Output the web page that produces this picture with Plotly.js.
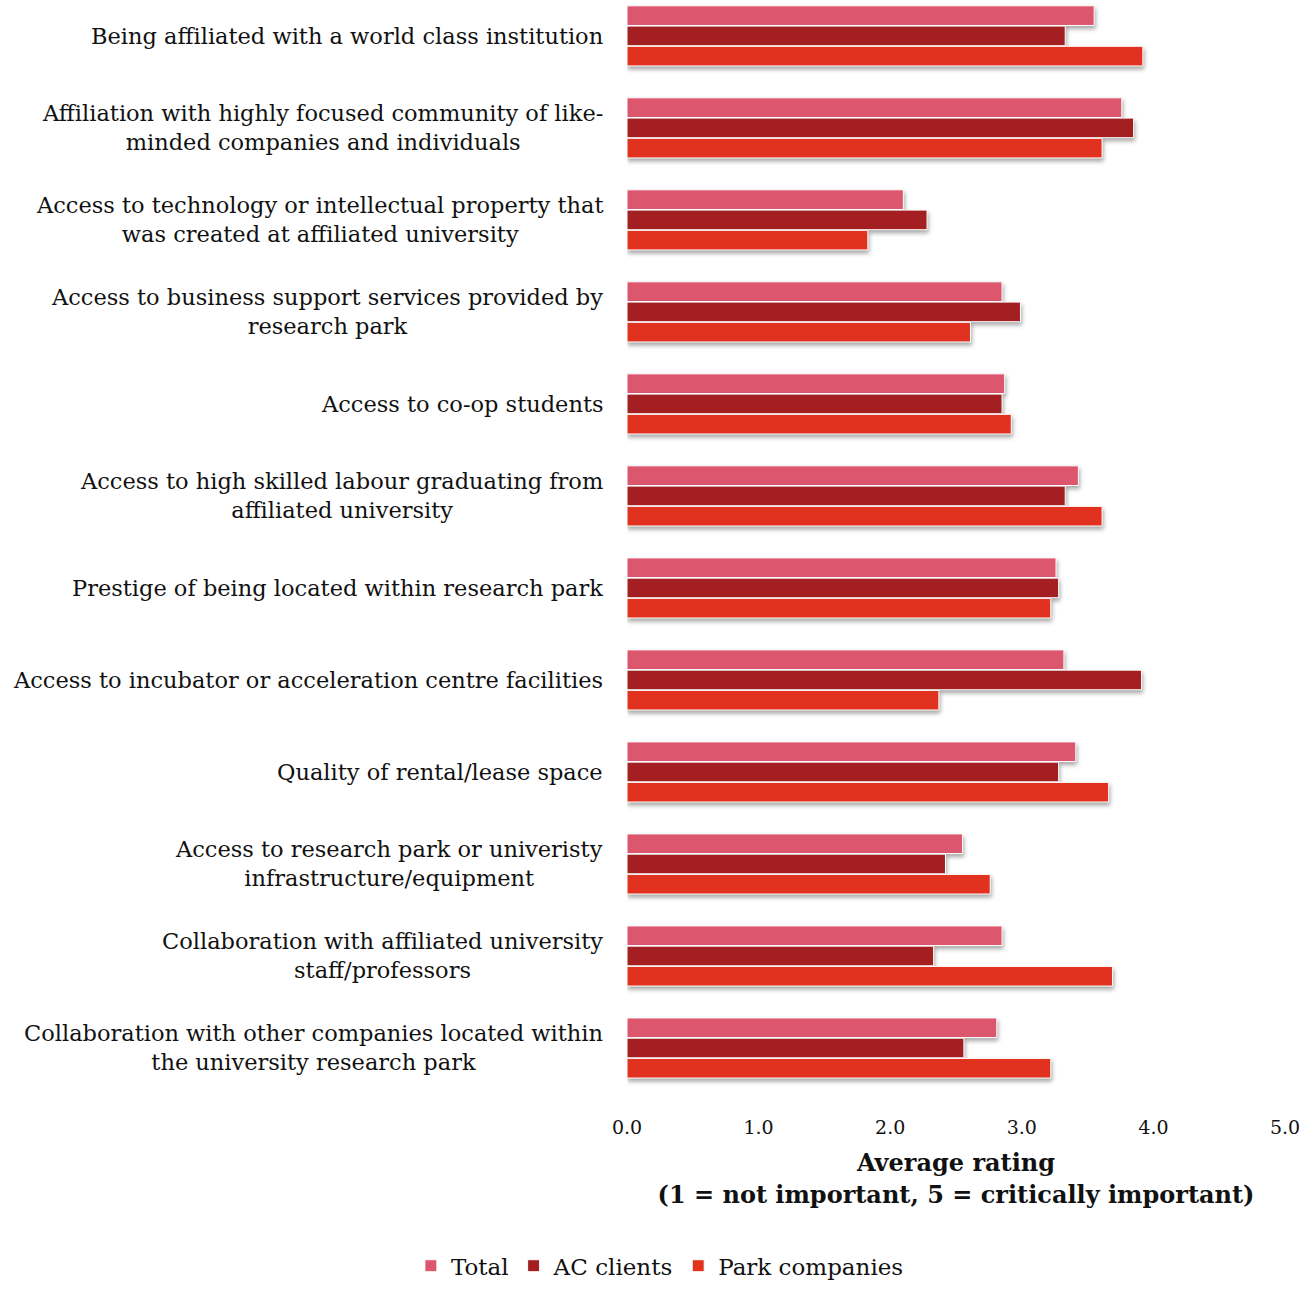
<!DOCTYPE html>
<html>
<head>
<meta charset="utf-8">
<script src="https://cdn.plot.ly/plotly-3.0.1.min.js"></script>
<style>
html,body{margin:0;padding:0;background:#fff;}
#chart{width:1315px;height:1290px;}
.barlayer .point path{filter:drop-shadow(1px 3px 2px rgba(0,0,0,0.35));}
</style>
</head>
<body>
<div id="chart"></div>
<script>
const categories = [
  "Being affiliated with a world class institution",
  "Affiliation with highly focused community of like-<br>minded companies and individuals",
  "Access to technology or intellectual property that<br>was created at affiliated university",
  "Access to business support services provided by<br>research park",
  "Access to co-op students",
  "Access to high skilled labour graduating from<br>affiliated university",
  "Prestige of being located within research park",
  "Access to incubator or acceleration centre facilities",
  "Quality of rental/lease space",
  "Access to research park or univeristy<br>infrastructure/equipment",
  "Collaboration with affiliated university<br>staff/professors",
  "Collaboration with other companies located within<br>the university research park"
];
const totalValues = [3.55, 3.76, 2.10, 2.85, 2.87, 3.43, 3.26, 3.32, 3.41, 2.55, 2.85, 2.81];
const acClientsValues = [3.33, 3.85, 2.28, 2.99, 2.85, 3.33, 3.28, 3.91, 3.28, 2.42, 2.33, 2.56];
const parkValues = [3.92, 3.61, 1.83, 2.61, 2.92, 3.61, 3.22, 2.37, 3.66, 2.76, 3.69, 3.22];
const seriesNames = ["Total", "AC clients", "Park companies"];
const xTickValues = [0, 1, 2, 3, 4, 5];
const xTickLabels = ["0.0", "1.0", "2.0", "3.0", "4.0", "5.0"];

const colors = ["#dc566e", "#a31f22", "#e0321f"];
const FONT = "DejaVu Serif, Georgia, serif";
const allValues = [totalValues, acClientsValues, parkValues];

const traces = allValues.map((vals, i) => ({
  type: "bar",
  orientation: "h",
  name: seriesNames[i],
  x: vals,
  y: categories,
  marker: {color: colors[i], line: {color: "#ffffff", width: 1}},
  hoverinfo: "x+name"
}));

const annotations = categories.map(c => ({
  text: c,
  xref: "paper",
  yref: "y",
  x: -0.033,
  y: c,
  xanchor: "right",
  yanchor: "middle",
  align: "center",
  showarrow: false,
  font: {family: FONT, size: 22.5, color: "#111"}
}));

const layout = {
  width: 1315,
  height: 1290,
  margin: {l: 627, r: 30, t: 0, b: 196},
  paper_bgcolor: "#fff",
  plot_bgcolor: "#fff",
  barmode: "group",
  bargap: 0.34,
  bargroupgap: 0.03,
  font: {family: FONT, color: "#111"},
  showlegend: true,
  legend: {
    orientation: "h",
    x: 0.05, xref: "paper",
    xanchor: "center",
    y: -0.157, yref: "paper", yanchor: "middle",
    font: {family: FONT, size: 23, color: "#111"},
    traceorder: "normal",
    itemwidth: 30
  },
  xaxis: {
    range: [0, 5],
    tickvals: xTickValues,
    ticktext: xTickLabels,
    showgrid: false,
    zeroline: false,
    showline: false,
    ticks: "",
    ticklabelstandoff: 20,
    tickfont: {family: FONT, size: 19, color: "#111"},
    title: {
      text: "<b>Average rating<br>(1 = not important, 5 = critically important)</b>",
      font: {family: FONT, size: 24, color: "#111"},
      standoff: 17
    },
    fixedrange: true
  },
  yaxis: {
    type: "category",
    range: [11.5, -0.39],
    showticklabels: false,
    showgrid: false,
    zeroline: false,
    showline: false,
    ticks: "",
    fixedrange: true
  },
  annotations: annotations
};

Plotly.newPlot("chart", traces, layout, {displayModeBar: false});
</script>
</body>
</html>
